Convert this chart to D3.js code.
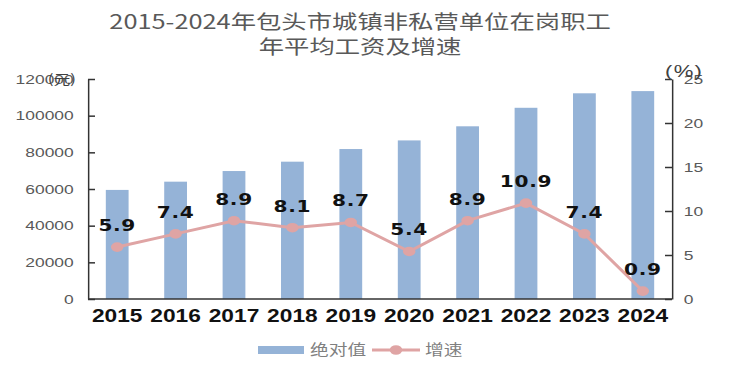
<!DOCTYPE html>
<html>
<head>
<meta charset="utf-8">
<script src="https://cdn.jsdelivr.net/npm/d3@7"></script>
<style>
  body { margin: 0; background: #fff; }
  svg line, svg path, svg rect { vector-effect: non-scaling-stroke; }
</style>
</head>
<body>
<div id="chart"></div>
<script>
var years = ['2015', '2016', '2017', '2018', '2019', '2020', '2021', '2022', '2023', '2024'];
var wage = [59500, 64000, 69800, 74900, 81800, 86500, 94200, 104300, 112200, 113400];
var growth = [5.9, 7.4, 8.9, 8.1, 8.7, 5.4, 8.9, 10.9, 7.4, 0.9];
var wage_ticks = [0, 20000, 40000, 60000, 80000, 100000, 120000];
var growth_ticks = [0, 5, 10, 15, 20, 25];
var title_lines = ['2015-2024年包头市城镇非私营单位在岗职工', '年平均工资及增速'];
var legend_names = ['绝对值', '增速'];

// the original picture is stretched sideways, so draw in a narrower viewBox
var S = 1.3;
var W = 732, H = 374;
var VW = W / S;

var BAR = '#95b3d7';
var LINE = '#dfa4a4';
var GREY = '#595959';

var plot = {
    left:   88 / S,
    right:  672 / S,
    top:    79,
    bottom: 299,
};

var svg = d3.select('#chart').append('svg')
    .attr('width', W)
    .attr('height', H)
    .attr('viewBox', '0 0 ' + VW + ' ' + H)
    .attr('preserveAspectRatio', 'none');

var sx = d3.scaleBand()
    .domain(years)
    .range([plot.left, plot.right])
    .paddingInner(0.61)
    .paddingOuter(0.305);
var sy = d3.scaleLinear().domain([0, 120000]).range([plot.bottom, plot.top]);
var sr = d3.scaleLinear().domain([0, 25]).range([plot.bottom, plot.top]);

// title
svg.append('g').selectAll('text')
    .data(title_lines).enter()
    .append('text')
    .attr('x', 277)
    .attr('y', function(d, i) { return 29 + i * 25; })
    .attr('text-anchor', 'middle')
    .attr('font-family', '"Noto Sans CJK SC", sans-serif')
    .attr('font-size', 19.5)
    .attr('fill', GREY)
    .text(function(d) { return d; });

// bars
svg.append('g').selectAll('rect')
    .data(years).enter()
    .append('rect')
    .attr('x', function(d) { return sx(d); })
    .attr('y', function(d, i) { return sy(wage[i]); })
    .attr('width', sx.bandwidth())
    .attr('height', function(d, i) { return plot.bottom - sy(wage[i]); })
    .attr('fill', BAR);

// axes
var ay = d3.axisLeft(sy).tickValues(wage_ticks).tickFormat(d3.format('d'))
    .tickSize(-7 / S).tickSizeOuter(0).tickPadding(11);
var ar = d3.axisRight(sr).tickValues(growth_ticks).tickFormat(d3.format('d'))
    .tickSize(-7 / S).tickSizeOuter(0).tickPadding(9);
var ax = d3.axisBottom(sx).tickSize(0).tickPadding(11);

var gy = svg.append('g').attr('transform', 'translate(' + plot.left + ',0)').call(ay);
var gr = svg.append('g').attr('transform', 'translate(' + plot.right + ',0)').call(ar);
var gx = svg.append('g').attr('transform', 'translate(0,' + plot.bottom + ')').call(ax);
gx.select('.domain').attr('d', 'M' + plot.left + ',0H' + plot.right);

[gy, gr].forEach(function(g) {
    g.selectAll('text')
        .attr('font-family', '"Liberation Sans", Arial, sans-serif')
        .attr('font-size', 13.4)
        .attr('fill', GREY);
});
gx.selectAll('text')
    .attr('font-family', '"Liberation Sans", Arial, sans-serif')
    .attr('font-weight', 'bold')
    .attr('font-size', 17.5)
    .attr('fill', '#111');
[gy, gr, gx].forEach(function(g) {
    g.selectAll('.domain, .tick line')
        .attr('stroke', '#333')
        .attr('stroke-width', 1.5);
});

// units
svg.append('text')
    .attr('x', 76 / S)
    .attr('y', 84)
    .attr('text-anchor', 'end')
    .attr('font-family', '"Noto Sans CJK SC", sans-serif')
    .attr('font-size', 13)
    .attr('fill', '#404040')
    .text('(元)');
svg.append('text')
    .attr('x', 665 / S)
    .attr('y', 77)
    .attr('font-family', '"Liberation Sans", Arial, sans-serif')
    .attr('font-size', 17)
    .attr('letter-spacing', 1)
    .attr('fill', '#404040')
    .text('(%)');

// growth line
var cx = function(d, i) { return sx(years[i]) + sx.bandwidth() / 2; };
var line = d3.line()
    .x(cx)
    .y(function(d) { return sr(d); });

svg.append('path')
    .datum(growth)
    .attr('d', line)
    .attr('fill', 'none')
    .attr('stroke', LINE)
    .attr('stroke-width', 3);

svg.append('g').selectAll('circle')
    .data(growth).enter()
    .append('circle')
    .attr('cx', cx)
    .attr('cy', function(d) { return sr(d); })
    .attr('r', 4.8)
    .attr('fill', LINE);

svg.append('g').selectAll('text')
    .data(growth).enter()
    .append('text')
    .attr('x', cx)
    .attr('y', function(d) { return sr(d) - 16; })
    .attr('text-anchor', 'middle')
    .attr('font-family', '"DejaVu Sans", sans-serif')
    .attr('font-weight', 'bold')
    .attr('font-size', 15.5)
    .attr('letter-spacing', 0.5)
    .attr('fill', '#111')
    .text(function(d) { return d.toFixed(1); });

// legend
var lg = svg.append('g');
lg.append('rect')
    .attr('x', 258 / S).attr('y', 346)
    .attr('width', 46 / S).attr('height', 8)
    .attr('fill', BAR);
lg.append('text')
    .attr('x', 310 / S).attr('y', 355)
    .attr('font-family', '"Noto Sans CJK SC", sans-serif')
    .attr('font-size', 14.4)
    .attr('fill', '#7f7f7f')
    .text(legend_names[0]);
lg.append('line')
    .attr('x1', 372 / S).attr('x2', 420 / S)
    .attr('y1', 350).attr('y2', 350)
    .attr('stroke', LINE).attr('stroke-width', 3);
lg.append('circle')
    .attr('cx', 396 / S).attr('cy', 350).attr('r', 4.8)
    .attr('fill', LINE);
lg.append('text')
    .attr('x', 425 / S).attr('y', 355)
    .attr('font-family', '"Noto Sans CJK SC", sans-serif')
    .attr('font-size', 14.4)
    .attr('fill', '#7f7f7f')
    .text(legend_names[1]);
</script>
</body>
</html>
